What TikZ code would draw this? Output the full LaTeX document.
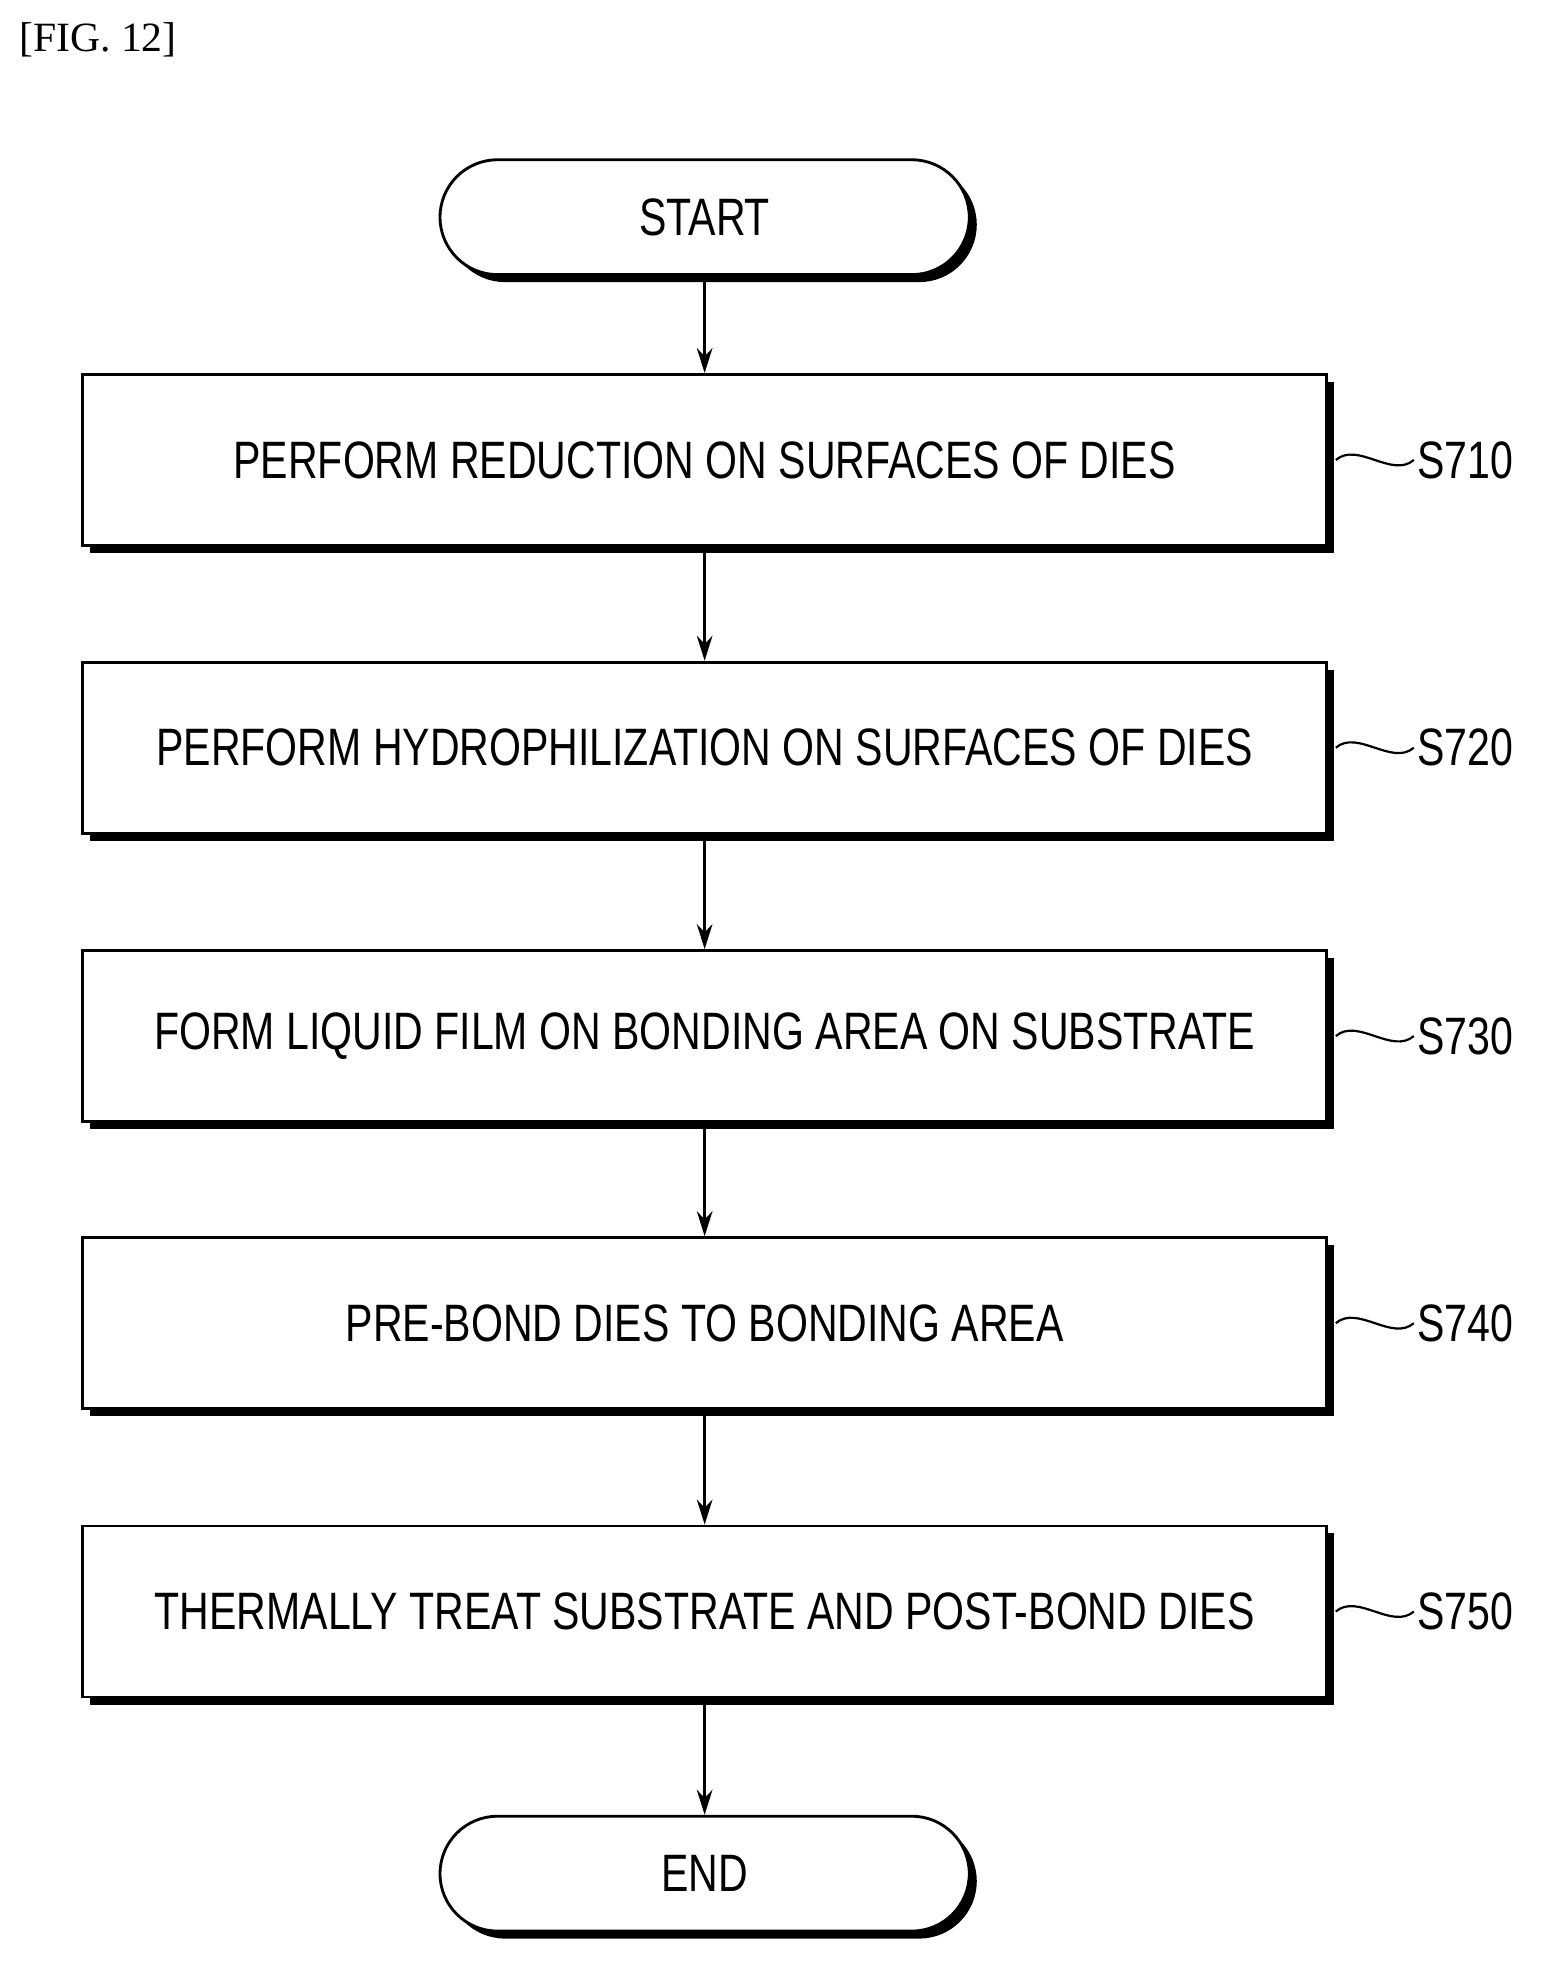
\documentclass[tikz,border=0pt]{standalone}
\usepackage{fontspec}
\setmainfont{Liberation Sans}[FakeStretch=0.78]
\newfontfamily\figfont{Liberation Serif}
\usetikzlibrary{positioning,shadows,arrows.meta}
\tikzset{%
    procbox/.style={draw,line width=1.3pt,fill=white,minimum width=19.94cm,minimum height=2.74cm,
        font=\fontsize{24}{28}\selectfont,
        drop shadow={shadow xshift=0.12cm,shadow yshift=-0.12cm,opacity=1,fill=black}},
    term/.style={procbox,minimum width=8.48cm,minimum height=1.84cm,rounded corners=0.92cm},
    tag/.style={font=\fontsize{24}{28}\selectfont,inner sep=0pt,anchor=west},
    flow/.style={line width=1.3pt,-{Stealth[length=0.4cm,width=0.25cm]}}
}
\begin{document}
\begin{tikzpicture}
    \useasboundingbox (0,0) rectangle (24.8,-31.5);
    \node[anchor=west,font=\figfont\fontsize{19}{22}\selectfont,inner sep=0pt] (fig) at (0.3,-0.64) {[FIG. 12]};

    \node[term] (start) at (11.29,-3.48) {START};
    \node[procbox] (s1) at (11.29,-7.37) {PERFORM REDUCTION ON SURFACES OF DIES};
    \node[procbox] (s2) at (11.29,-11.98) {PERFORM HYDROPHILIZATION ON SURFACES OF DIES};
    \node[procbox] (s3) at (11.29,-16.60) {FORM LIQUID FILM ON BONDING AREA ON SUBSTRATE};
    \node[procbox] (s4) at (11.29,-21.20) {PRE-BOND DIES TO BONDING AREA};
    \node[procbox] (s5) at (11.29,-25.82) {THERMALLY TREAT SUBSTRATE AND POST-BOND DIES};
    \node[term] (end) at (11.29,-30.02) {END};

    \draw[flow] (start) -- (s1);
    \draw[flow] (s1) -- (s2);
    \draw[flow] (s2) -- (s3);
    \draw[flow] (s3) -- (s4);
    \draw[flow] (s4) -- (s5);
    \draw[flow] (s5) -- (end);

    \foreach \i/\lbl in {1/S710,2/S720,3/S730,4/S740,5/S750}{
        \node[tag] (t\i) at ([xshift=1.42cm]s\i.east) {\lbl};
        \draw[line width=1pt] ([xshift=0.12cm]s\i.east) .. controls +(0.35,0.3) and +(-0.35,-0.3) .. ([xshift=-0.05cm]t\i.west);
    }
\end{tikzpicture}
\end{document}
